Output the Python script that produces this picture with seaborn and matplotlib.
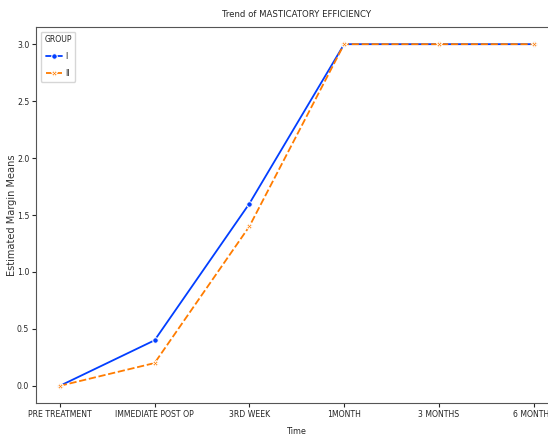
import pandas as pd
import numpy as np
import matplotlib
matplotlib.use("Agg")
import matplotlib.pyplot as plt
import seaborn as sns

times = ["PRE TREATMENT", "IMMEDIATE POST OP", "3RD WEEK", "1MONTH", "3 MONTHS", "6 MONTHS"]
group_i = [0.0, 0.4, 1.6, 3.0, 3.0, 3.0]
group_ii = [0.0, 0.2, 1.4, 3.0, 3.0, 3.0]

df = pd.DataFrame({
    "Time": times * 2,
    "Estimated Margin Means": group_i + group_ii,
    "GROUP": ["I"] * len(times) + ["II"] * len(times),
})

sns.set_style("ticks")
plt.rcParams['font.family'] = ['DejaVu Sans']
plt.rcParams['font.stretch'] = 'condensed'

fig = plt.figure(figsize=(5.48, 4.37), dpi=100)
ax = fig.add_axes([0.066, 0.078, 0.951, 0.860])
sns.lineplot(data=df, x="Time", y="Estimated Margin Means", hue="GROUP", style="GROUP",
             markers=True, dashes=True, palette="bright", markersize=4, linewidth=1.3,
             sort=False, ax=ax)

ax.set_title("Trend of MASTICATORY EFFICIENCY", fontsize=6.8, pad=7)
ax.set_xlabel("Time", fontsize=6.5, labelpad=6)
ax.set_ylabel("Estimated Margin Means", fontsize=7.8, labelpad=0, color="#333333")
ax.tick_params(labelsize=6.2, length=3, pad=2)
for s in ax.spines.values():
    s.set_visible(True)
    s.set_color("#555555")
ax.legend(title="GROUP", loc="upper left", fontsize=6.5, title_fontsize=6.2,
          handlelength=1.7, handletextpad=0.4, labelspacing=0.9)

fig.savefig("out.png", dpi=100)
